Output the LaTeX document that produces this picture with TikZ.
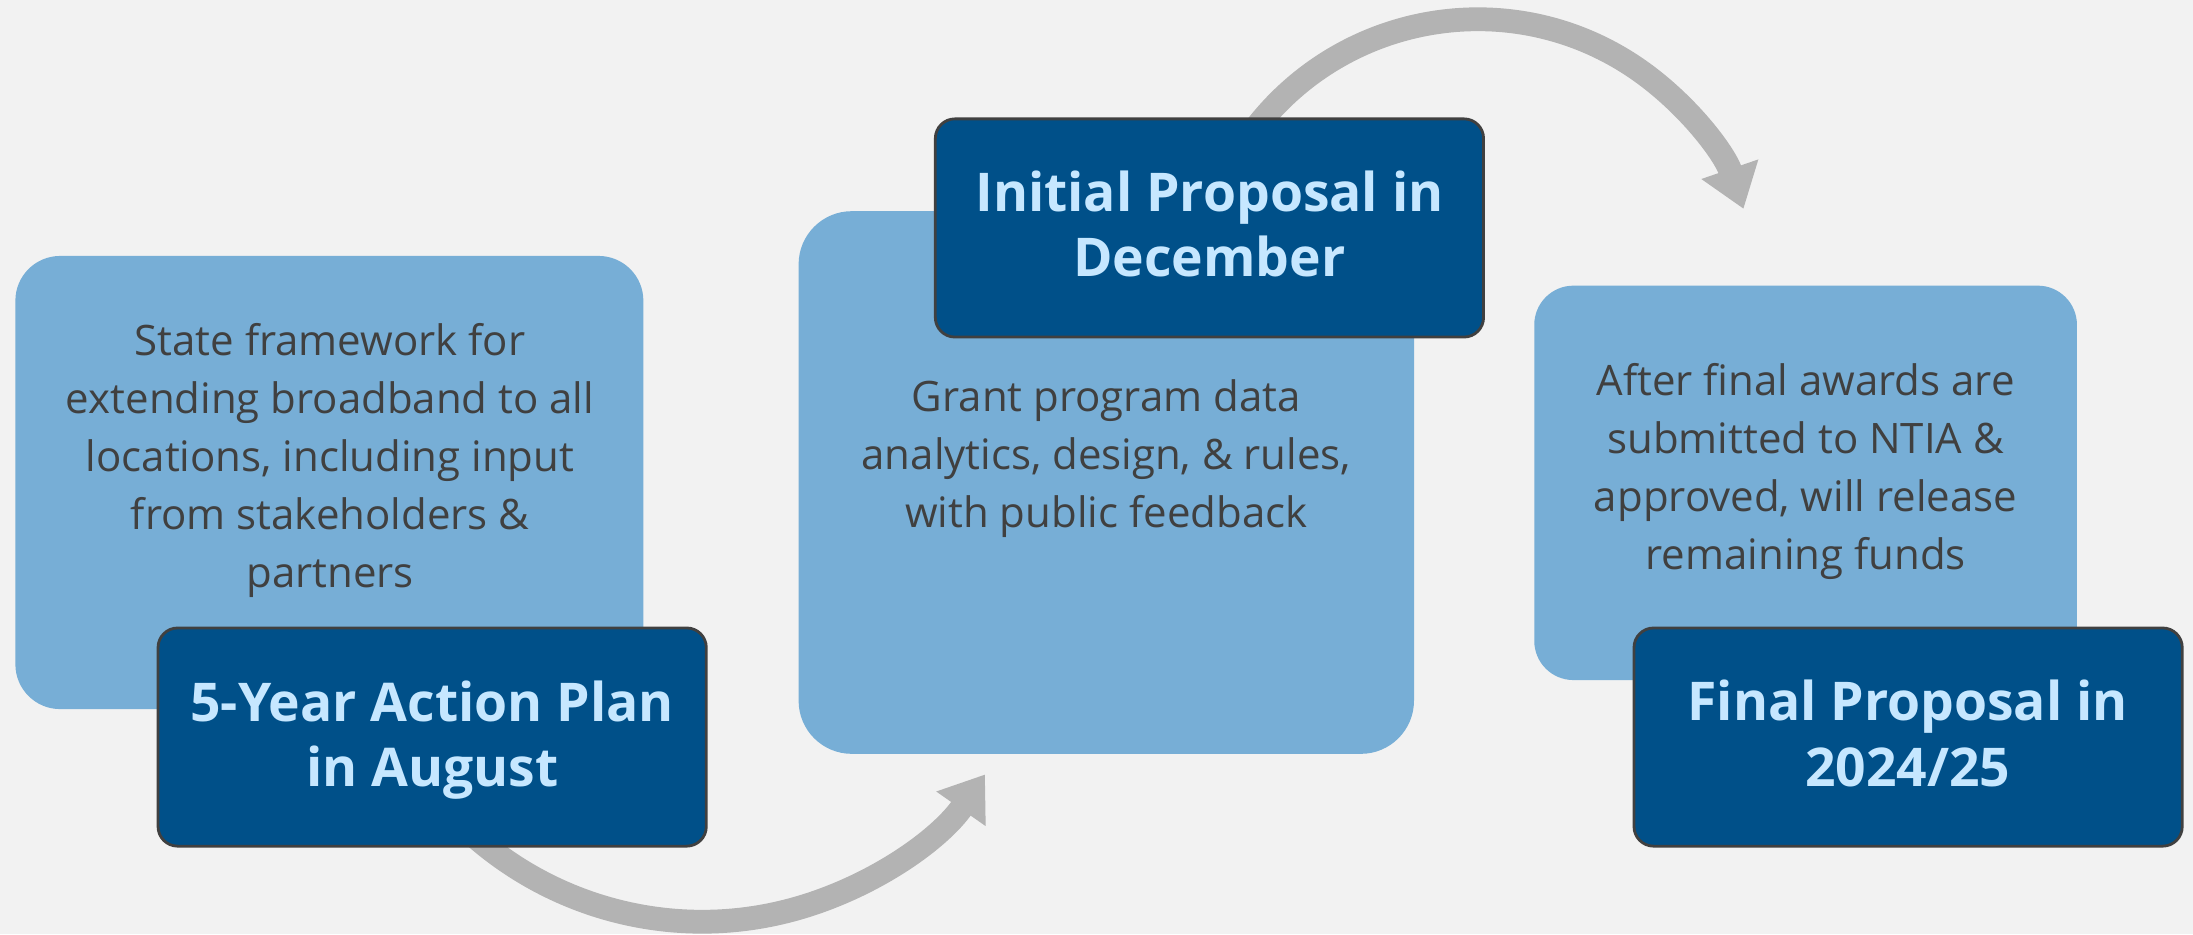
\documentclass[tikz,border=0pt]{standalone}
\usepackage{fontspec}
\setmainfont{Open Sans}
\usetikzlibrary{arrows.meta}
\definecolor{bg}{HTML}{F2F2F2}
\definecolor{lightblue}{HTML}{77AED6}
\definecolor{darkblue}{HTML}{005089}
\definecolor{headtext}{HTML}{C6E7FF}
\definecolor{bodytext}{HTML}{404040}
\definecolor{arrowgray}{HTML}{B3B3B3}
\definecolor{edgegray}{HTML}{404040}
\begin{document}
\begin{tikzpicture}[x=0.5pt,y=-0.5pt,
  lightbox/.style={fill=lightblue, draw=none, inner sep=0pt},
  darkbox/.style={fill=darkblue, draw=edgegray, line width=1pt, rounded corners=7pt,
    minimum width=196pt, minimum height=78pt, inner sep=0pt},
  bodytxt/.style={align=center, text=bodytext, font=\fontsize{15}{20.75}\selectfont,
    anchor=base, inner sep=0pt},
  headtxt/.style={align=center, text=headtext, font=\bfseries\fontsize{19.1}{23.25}\selectfont,
    anchor=base, inner sep=0pt},
  flowarrow/.style={draw=arrowgray, line width=8.5pt, -{Triangle[length=15pt,width=20.5pt]}}
]
\path[use as bounding box, fill=bg] (0,0) rectangle (1568,668);

% light boxes
\node[lightbox, minimum width=224.5pt, minimum height=162pt, rounded corners=16pt] (l1) at (235.5,345) {};
\node[lightbox, minimum width=220pt, minimum height=194pt, rounded corners=19pt] (l2) at (791,345) {};
\node[lightbox, minimum width=194pt, minimum height=141pt, rounded corners=14pt] (l3) at (1291,345.25) {};

% body texts (anchored at the baseline of the last line)
\node[bodytxt] (t1) at (236,420) {State framework for\\extending broadband to all\\locations, including input\\from stakeholders \&\\partners};
\node[bodytxt] (t2) at (791,377) {Grant program data\\analytics, design, \& rules,\\with public feedback};
\node[bodytxt] (t3) at (1291,407) {After final awards are\\submitted to NTIA \&\\approved, will release\\remaining funds};

% arrows
\coordinate (a1s) at (327.3,586.7);
\coordinate (a2s) at (891.9,99.5);
\draw[flowarrow] (a1s) arc[start angle=135, end angle=35, radius=247];
\draw[flowarrow] (a2s) arc[start angle=-145, end angle=-19, radius=201];

% dark boxes
\node[darkbox] (d1) at (309,527) {};
\node[darkbox] (d2) at (864.75,163) {};
\node[darkbox] (d3) at (1364.3,527) {};

\node[headtxt] (h1) at (309,562.4) {5-Year Action Plan\\in August};
\node[headtxt] (h2) at (864.75,198) {Initial Proposal in\\December};
\node[headtxt] (h3) at (1364,562) {Final Proposal in\\2024/25};
\end{tikzpicture}
\end{document}
